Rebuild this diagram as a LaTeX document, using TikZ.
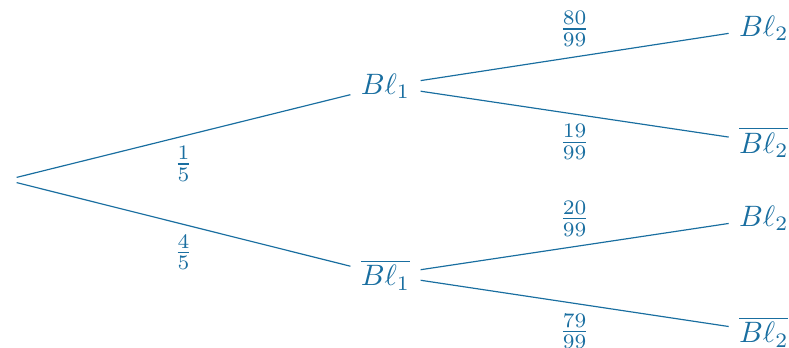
\documentclass[tikz,border=0pt]{standalone}
\definecolor{treeblue}{RGB}{25,110,160}
\begin{document}
\begin{tikzpicture}[x=0.339pt,y=-0.339pt,
  every node/.style={text=treeblue},
  edge/.style={draw=treeblue, line width=0.4pt}]
\useasboundingbox (0,0) rectangle (789,348);
\node (r) at (6.2,180) {};
\node (b1) at (385.5,86) {$B\ell_1$};
\node (nb1) at (385.5,275) {$\overline{B\ell_1}$};
\node (l1) at (763.8,28) {$B\ell_2$};
\node (l2) at (763.8,142.3) {$\overline{B\ell_2}$};
\node (l3) at (763.8,218.2) {$B\ell_2$};
\node (l4) at (763.8,331.8) {$\overline{B\ell_2}$};
\draw[edge] (r) -- node[below] {$\frac{1}{5}$} (b1);
\draw[edge] (r) -- node[below] {$\frac{4}{5}$} (nb1);
\draw[edge] (b1) -- node[above] {$\frac{80}{99}$} (l1);
\draw[edge] (b1) -- node[below] {$\frac{19}{99}$} (l2);
\draw[edge] (nb1) -- node[above] {$\frac{20}{99}$} (l3);
\draw[edge] (nb1) -- node[below] {$\frac{79}{99}$} (l4);
\end{tikzpicture}
\end{document}
